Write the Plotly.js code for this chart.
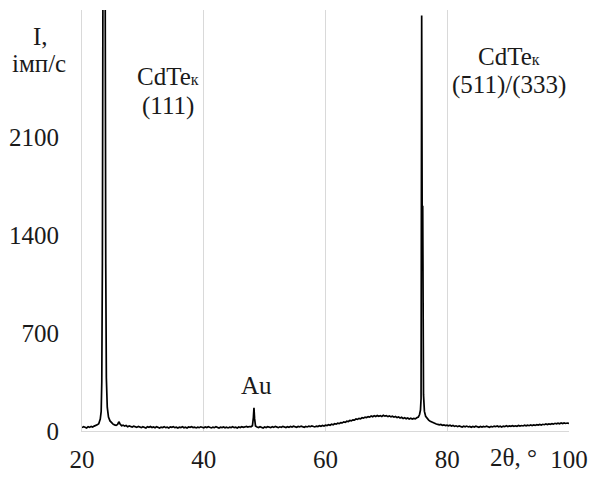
<!DOCTYPE html>
<html>
<head>
<meta charset="utf-8">
<script src="https://cdn.plot.ly/plotly-3.0.1.min.js"></script>
<style>html,body{margin:0;padding:0;background:#fff;}#chart{width:590px;height:477px;}</style>
</head>
<body>
<div id="chart"></div>
<script>
// 2θ (degrees)
var twoTheta = [
20.00,20.25,20.50,20.75,21.00,21.25,21.50,21.75,22.00,22.25,22.50,22.75,23.00,23.15,23.25,23.35,23.45,23.62,23.80,23.90,24.00,24.15,24.35,24.60,24.85,
25.10,25.35,25.60,25.85,26.05,26.25,26.50,26.75,27.00,27.25,27.50,27.75,28.00,28.25,28.50,28.75,29.00,29.25,29.50,29.75,
30.00,30.25,30.50,30.75,31.00,31.25,31.50,31.75,32.00,32.25,32.50,32.75,33.00,33.25,33.50,33.75,34.00,34.25,34.50,34.75,
35.00,35.25,35.50,35.75,36.00,36.25,36.50,36.75,37.00,37.25,37.50,37.75,38.00,38.25,38.50,38.75,39.00,39.25,39.50,39.75,
40.00,40.25,40.50,40.75,41.00,41.25,41.50,41.75,42.00,42.25,42.50,42.75,43.00,43.25,43.50,43.75,44.00,44.25,44.50,44.75,
45.00,45.25,45.50,45.75,46.00,46.25,46.50,46.75,47.00,47.25,47.50,47.75,48.00,48.15,48.25,48.35,48.50,48.75,
49.00,49.25,49.50,49.75,50.00,50.25,50.50,50.75,51.00,51.25,51.50,51.75,52.00,52.25,52.50,52.75,53.00,53.25,53.50,53.75,
54.00,54.25,54.50,54.75,55.00,55.25,55.50,55.75,56.00,56.25,56.50,56.75,57.00,57.25,57.50,57.75,58.00,58.25,58.50,58.75,
59.00,59.25,59.50,59.75,60.00,60.25,60.50,60.75,61.00,61.25,61.50,61.75,62.00,62.25,62.50,62.75,63.00,63.25,63.50,63.75,
64.00,64.25,64.50,64.75,65.00,65.25,65.50,65.75,66.00,66.25,66.50,66.75,67.00,67.25,67.50,67.75,68.00,68.25,68.50,68.75,
69.00,69.25,69.50,69.75,70.00,70.25,70.50,70.75,71.00,71.25,71.50,71.75,72.00,72.25,72.50,72.75,73.00,73.25,73.50,73.75,
74.00,74.25,74.50,74.75,75.00,75.25,75.45,75.60,75.70,75.80,75.90,75.97,76.10,76.25,76.45,76.70,76.95,
77.20,77.45,77.70,77.95,78.20,78.45,78.70,78.95,79.20,79.45,79.70,79.95,80.20,80.45,80.70,80.95,81.20,81.45,81.70,81.95,
82.20,82.45,82.70,82.95,83.20,83.45,83.70,83.95,84.20,84.45,84.70,84.95,85.20,85.45,85.70,85.95,86.20,86.45,86.70,86.95,
87.20,87.45,87.70,87.95,88.20,88.45,88.70,88.95,89.20,89.45,89.70,89.95,90.20,90.45,90.70,90.95,91.20,91.45,91.70,91.95,
92.20,92.45,92.70,92.95,93.20,93.45,93.70,93.95,94.20,94.45,94.70,94.95,95.20,95.45,95.70,95.95,96.20,96.45,96.70,96.95,
97.20,97.45,97.70,97.95,98.20,98.45,98.70,98.95,99.20,99.45,99.70,100.00
];
// Intensity (imp/s)
var intensity = [
24,31,27,22,30,26,33,28,35,38,44,52,85,140,350,1200,3400,4200,3400,1200,380,170,100,72,58,
49,44,40,47,66,50,38,42,35,39,31,36,33,28,35,30,26,33,29,24,
31,27,22,30,26,32,25,29,23,30,27,21,28,25,31,24,28,22,29,26,
31,24,27,21,28,25,30,23,27,22,29,26,31,25,28,22,27,24,30,26,
23,29,25,31,26,22,28,24,30,25,21,27,24,29,23,27,22,28,25,30,
24,27,22,29,25,31,26,29,33,28,32,30,38,95,165,90,36,29,
25,31,26,22,29,25,31,27,24,30,26,33,28,24,30,27,33,29,25,31,
27,32,28,34,30,26,32,29,35,30,27,33,29,35,31,36,32,29,35,32,
38,34,40,36,42,39,45,41,48,45,52,49,56,53,60,58,65,62,70,68,
75,72,80,78,86,83,90,87,95,92,99,96,103,99,107,102,109,104,111,105,
110,104,112,106,110,103,108,101,106,99,104,96,101,93,98,90,95,88,93,86,
91,85,90,87,95,100,118,150,230,2970,1230,1610,260,140,105,88,78,
70,64,58,55,50,47,44,47,41,44,39,42,37,41,35,39,33,37,31,36,
32,28,34,30,35,29,33,27,32,28,34,30,26,32,28,33,29,35,30,27,
33,29,35,31,36,30,34,29,35,31,37,32,36,33,38,33,37,34,40,35,
39,36,41,37,42,38,43,39,44,40,45,42,47,43,48,45,50,46,51,48,
53,49,55,51,56,52,57,53,58,54,57,55
];
var xTicks = [20, 40, 60, 80, 100];
var yTicks = [0, 700, 1400, 2100];

var FONT = 'Liberation Serif, Times New Roman, serif';
var TXT = '#1a1a1a';
var FS = 25;
var K = '<span style="font-size:16px">к</span>';

var trace = {
  x: twoTheta, y: intensity, type: 'scatter', mode: 'lines',
  line: {color: '#000000', width: 1.7},
  hoverinfo: 'skip', showlegend: false
};

function ann(text, x, y) {
  return {text: text, x: x, y: y, xref: 'paper', yref: 'paper',
    xanchor: 'center', yanchor: 'middle', showarrow: false,
    font: {family: FONT, size: FS, color: TXT}};
}

var layout = {
  width: 590, height: 477,
  margin: {l: 82, r: 21, t: 10, b: 46, pad: 0},
  paper_bgcolor: '#ffffff', plot_bgcolor: '#ffffff',
  font: {family: FONT, size: FS, color: TXT},
  showlegend: false,
  xaxis: {
    range: [20, 100], tickmode: 'array', tickvals: xTicks, ticktext: xTicks.map(String),
    showgrid: true, gridcolor: '#d9d9d9', gridwidth: 1,
    showline: true, linecolor: '#d9d9d9', linewidth: 1,
    zeroline: false, ticks: 'outside', ticklen: 6, tickcolor: 'rgba(0,0,0,0)',
    tickfont: {family: FONT, size: FS, color: TXT}, fixedrange: true
  },
  yaxis: {
    range: [0, 3010], tickmode: 'array', tickvals: yTicks, ticktext: yTicks.map(String),
    showgrid: false, showline: true, linecolor: '#d9d9d9', linewidth: 1,
    zeroline: false, ticks: 'outside', ticklen: 17, tickcolor: 'rgba(0,0,0,0)',
    tickfont: {family: FONT, size: FS, color: TXT}, fixedrange: true
  },
  annotations: [
    ann('I,', -0.086, 0.938),
    ann('імп/с', -0.088, 0.874),
    ann('CdTe' + K, 0.1766, 0.843),
    ann('(111)', 0.1766, 0.772),
    ann('CdTe' + K, 0.8768, 0.8907),
    ann('(511)/(333)', 0.8768, 0.8219),
    ann('Au', 0.3593, 0.1069),
    ann('2θ, °', 0.887, -0.0641)
  ]
};

Plotly.newPlot('chart', [trace], layout, {staticPlot: true, displayModeBar: false});
</script>
</body>
</html>
